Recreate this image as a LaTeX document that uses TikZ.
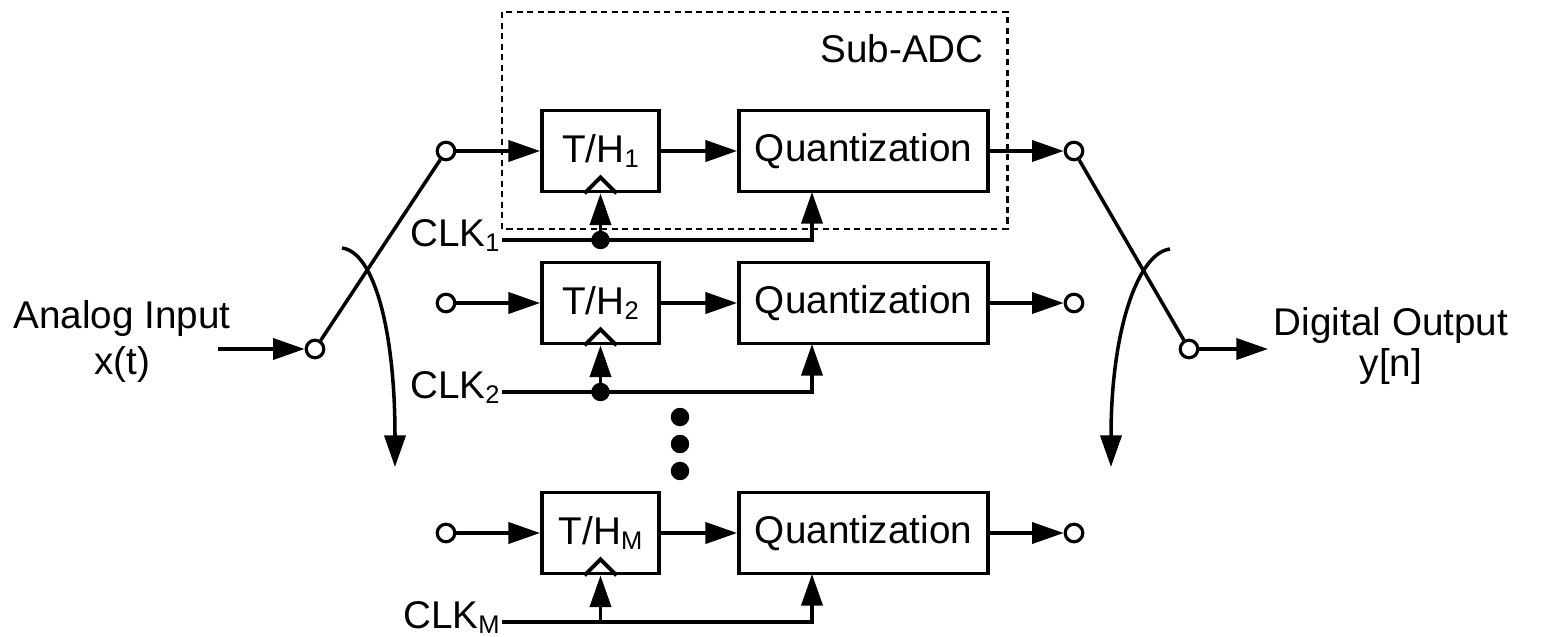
\documentclass[tikz,border=0pt]{standalone}
\usepackage{fontspec}
\setmainfont{Liberation Sans}
\usetikzlibrary{arrows.meta,calc}
% lowered small index, as in T/H_1 or CLK_M
\newcommand{\lsub}[1]{\raisebox{-3pt}{\fontsize{14.5}{14.5}\selectfont #1}}

\begin{document}
\begin{tikzpicture}[x=0.02cm,y=-0.02cm,
  every node/.style={font=\fontsize{22}{26}\selectfont},
  blk/.style={draw, line width=2.2pt, minimum height=1.62cm, inner sep=0pt},
  wire/.style={line width=2pt},
  conn/.style={wire, -{Triangle[length=18pt,width=12pt]}},
  port/.style={circle, draw, line width=1.8pt, fill=white, minimum size=10pt, inner sep=0pt},
  junc/.style={circle, fill, minimum size=10.5pt, inner sep=0pt},
  subbox/.style={line width=1.7pt, dash pattern=on 3.5pt off 2.5pt}]
\useasboundingbox (0,0) rectangle (1552,636);

% the sub-ADC frame
\draw [subbox] (502,12) rectangle (1007,229);
\node [anchor=base east] (sub) at (990,62) {Sub-ADC};

% channels
\foreach \ch/\y in {1/151, 2/303, M/533}{
  \node [port] (in\ch) at (446,\y) {};
  \node [blk, minimum width=2.34cm] (th\ch) at (600.5,\y) {T/H\lsub{\ch}};
  \node [blk, minimum width=4.98cm] (q\ch) at (863.5,\y) {Quantization};
  \node [port] (out\ch) at (1074,\y) {};
  \draw [conn] (in\ch) -- (th\ch);
  \draw [conn] (th\ch) -- (q\ch);
  \draw [conn] (q\ch) -- (out\ch);
  % clock input mark
  \draw [wire, line width=2.2pt] ($(th\ch.south)+(-16,0)$) -- ++(16,-16) -- ++(16,16);
  % clock line
  \coordinate (ck\ch) at (502,\y+89);
  \coordinate (qc\ch) at (812,\y+41);
  \node [anchor=base east, inner sep=0pt] (clk\ch) at (500,\y+95) {CLK\lsub{\ch}};
  \draw [conn] (ck\ch) -| (qc\ch);
  \draw [conn] (th\ch.south |- ck\ch) -- (th\ch.south);
}
\foreach \ch in {1,2}
  \node [junc] (j\ch) at (th\ch.south |- ck\ch) {};

% more channels
\foreach \i/\y in {1/417, 2/444, 3/471}
  \node [junc] (dot\i) at (680,\y) {};

% input commutator
\coordinate (asrc) at (218,349);
\node [port] (xin) at (315,349) {};
\draw [conn] (asrc) -- (xin);
\draw [wire] (xin) -- (in1);
\draw [conn] (342,248) .. controls (374,252) and (395,330) .. (395,467);
\node [anchor=base] (ain) at (122,328) {Analog Input};
\node [anchor=base] (xt) at (122,374) {x(t)};

% output commutator
\coordinate (adst) at (1268,349);
\node [port] (yout) at (1189,349) {};
\draw [wire] (out1) -- (yout);
\draw [conn] (yout) -- (adst);
\draw [conn] (1170,249) .. controls (1138,253) and (1111,330) .. (1111,467);
\node [anchor=base] (dout) at (1391,335) {Digital Output};
\node [anchor=base] (yn) at (1391,376) {y[n]};
\end{tikzpicture}
\end{document}
